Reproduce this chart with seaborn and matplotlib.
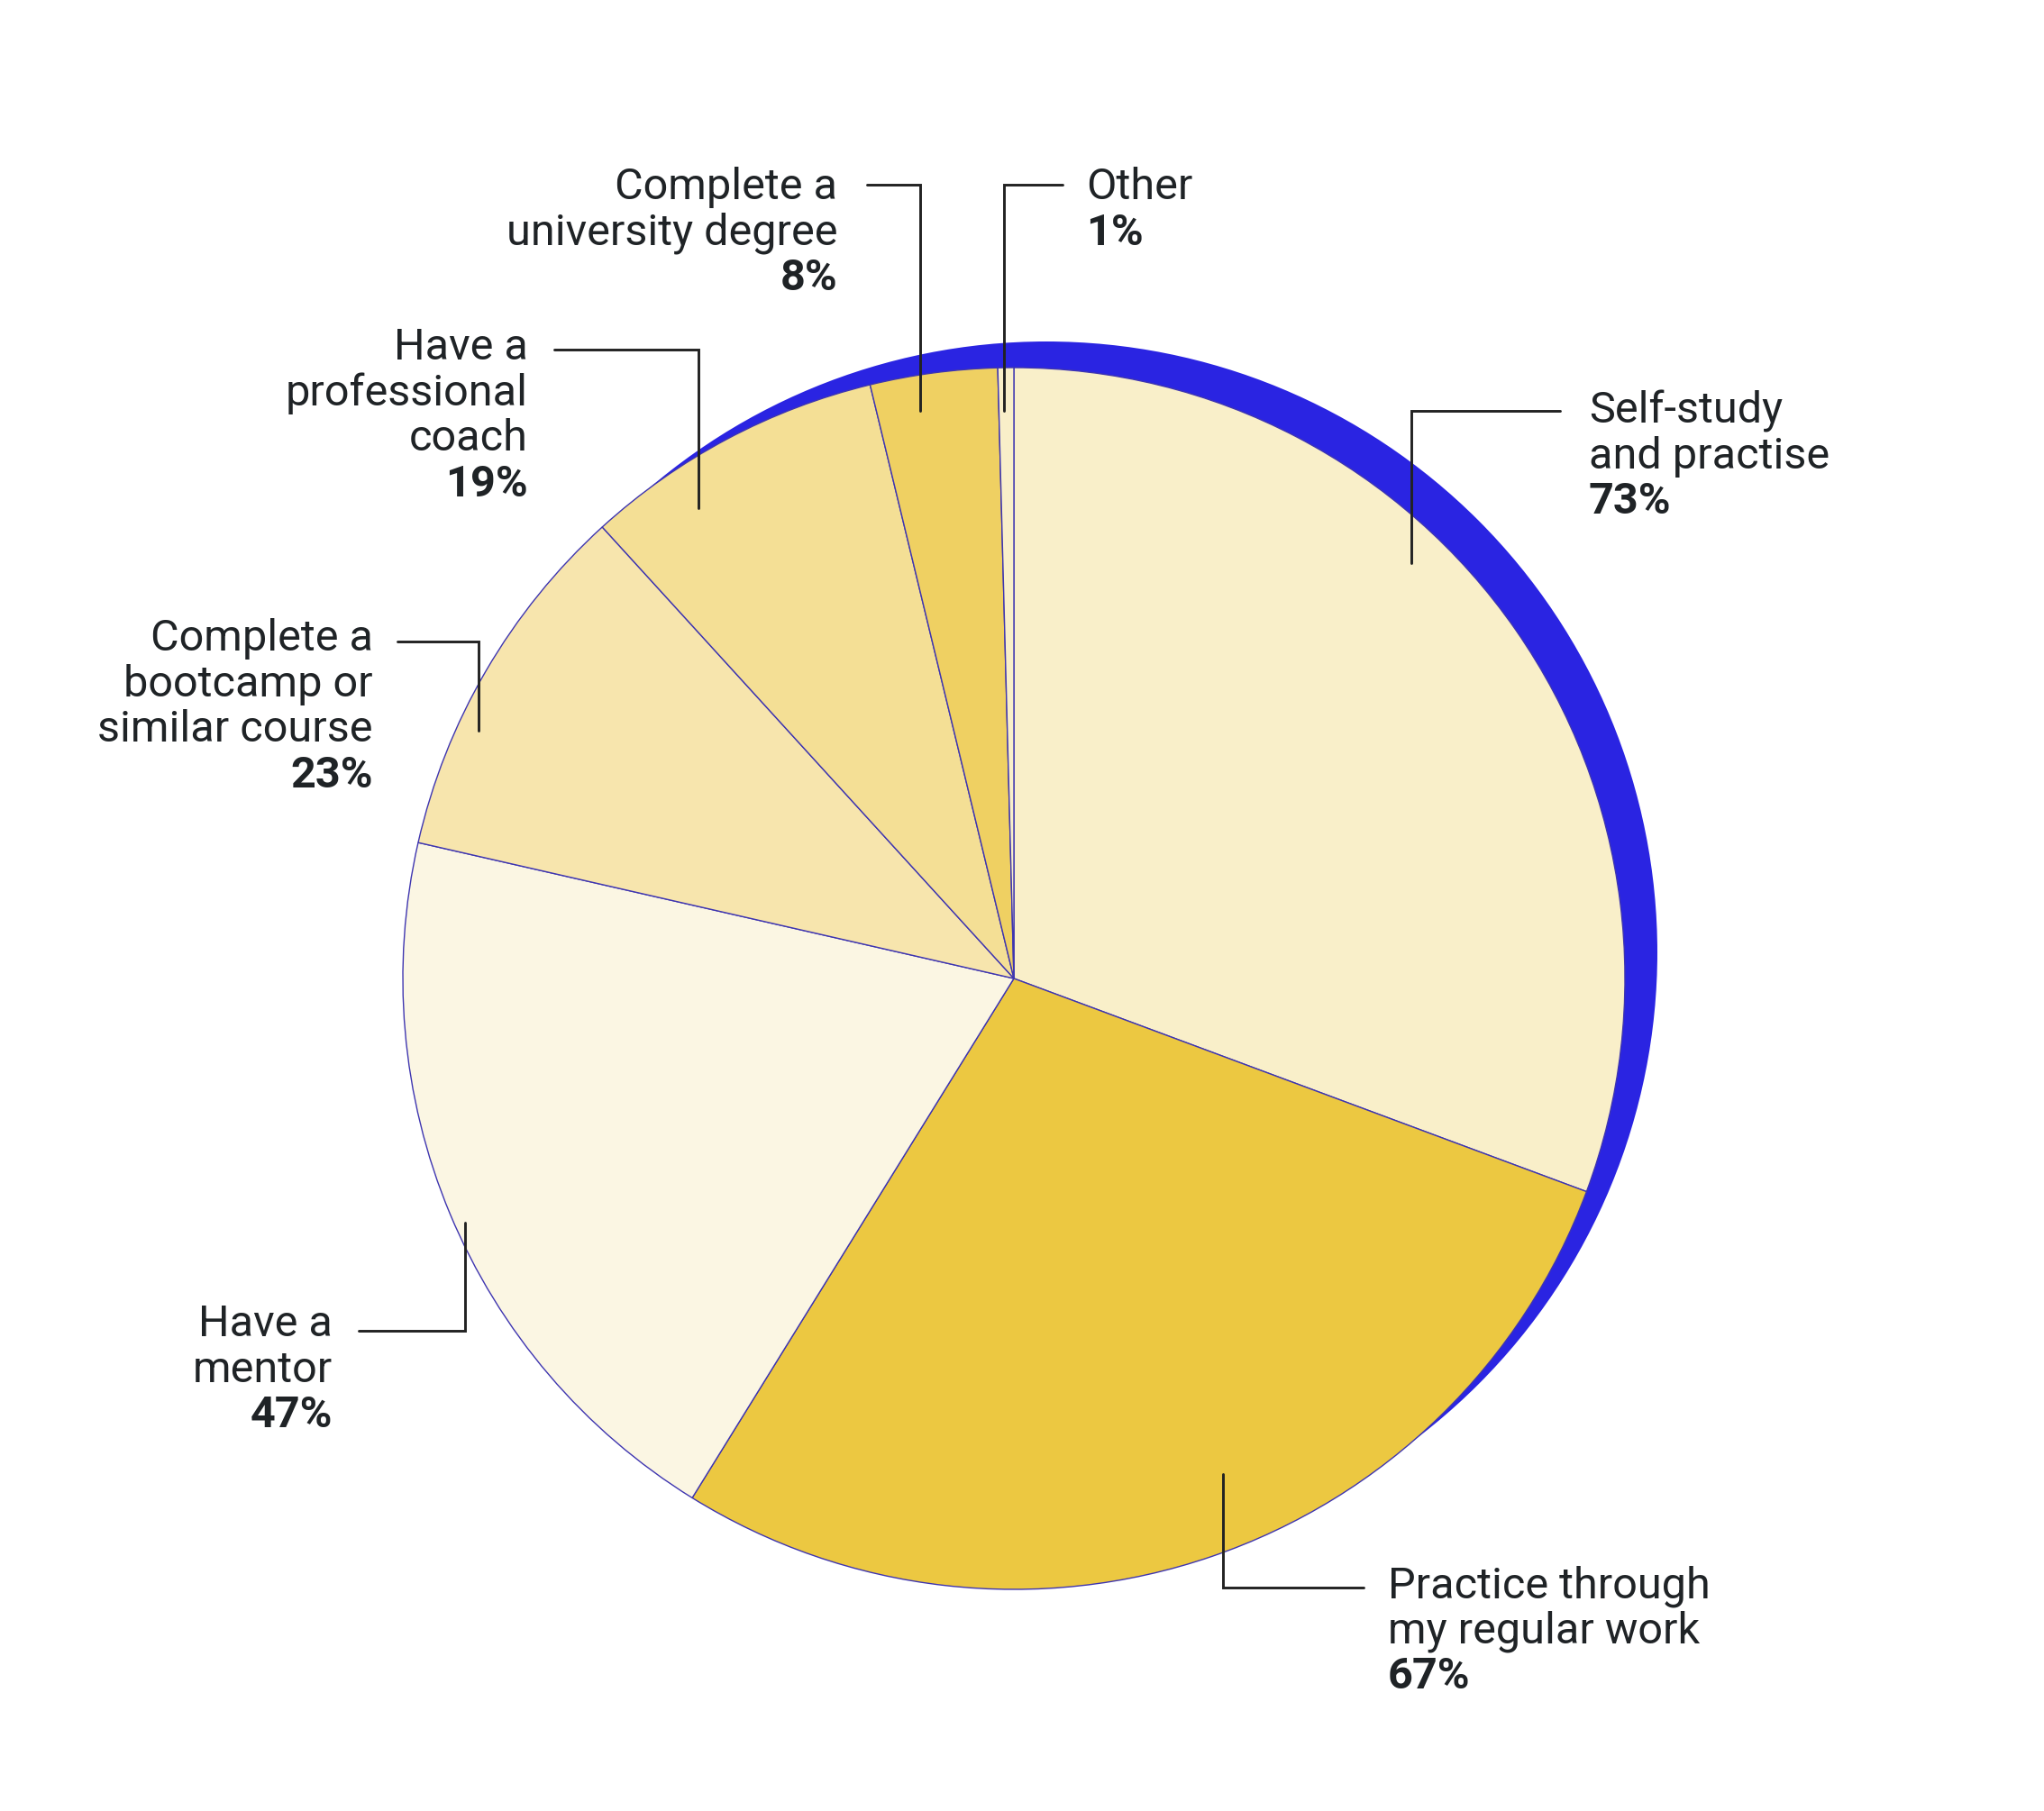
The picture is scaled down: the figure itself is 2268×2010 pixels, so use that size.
import matplotlib
matplotlib.use("Agg")
import matplotlib.pyplot as plt
import seaborn as sns
from matplotlib.patches import Circle

# ---------------- data ----------------
categories = ["Self-study and practise", "Practice through my regular work", "Have a mentor",
              "Complete a bootcamp or similar course", "Have a professional coach",
              "Complete a university degree", "Other"]
values = [73, 67, 47, 23, 19, 8, 1]
label_lines = [["Self-study", "and practise"],
               ["Practice through", "my regular work"],
               ["Have a", "mentor"],
               ["Complete a", "bootcamp or", "similar course"],
               ["Have a", "professional", "coach"],
               ["Complete a", "university degree"],
               ["Other"]]
slice_colors = ["#F9EFC9", "#ECC841", "#FBF6E3", "#F7E5AD", "#F4DF95", "#EFD062", "#F9EFC9"]

# ---------------- layout (image pixel coords) ----------------
W, H = 2268, 2010
DPI = 100
center = (1125, 1086)
radius = 678
shadow_offset = (36, -29)
label_pos = [(1763, 453, "left"), (1540, 1757, "left"), (369, 1467, "right"),
             (414, 706, "right"), (586, 383, "right"), (929, 205, "right"), (1205, 205, "left")]
connectors = [[(1731, 456), (1566, 456), (1566, 625)],
              [(1513, 1762), (1357, 1762), (1357, 1636)],
              [(398, 1477), (516, 1477), (516, 1357)],
              [(441, 712), (531, 712), (531, 811)],
              [(615, 388), (775, 388), (775, 564)],
              [(962, 205), (1021, 205), (1021, 456)],
              [(1179, 205), (1114, 205), (1114, 456)]]
pitch = 50.5

sns.set_theme(style="white")
plt.rcParams['font.family'] = ['Roboto', 'DejaVu Sans']

fig = plt.figure(figsize=(W / DPI, H / DPI), dpi=DPI, facecolor="white")
ax = fig.add_axes([0, 0, 1, 1])
ax.set_xlim(0, W)
ax.set_ylim(0, H)
ax.set_aspect("equal")
ax.axis("off")

def Y(y):
    return H - y

# blue shadow disc
ax.add_patch(Circle((center[0] + shadow_offset[0], Y(center[1]) - shadow_offset[1]), radius,
                    facecolor="#2A24E2", edgecolor="none", zorder=1))

wedges, _ = ax.pie(values, colors=slice_colors, startangle=90, counterclock=False,
                   center=(center[0], Y(center[1])), radius=radius, frame=True,
                   wedgeprops=dict(edgecolor="#3E35B0", linewidth=1.0))
for w in wedges:
    w.set_zorder(2)
ax.set_xlim(0, W)
ax.set_ylim(0, H)
ax.axis("off")

txt_color = "#1F2326"
fs = 35
for lines, val, (x, y0, ha), path in zip(label_lines, values, label_pos, connectors):
    allines = lines + [f"{val}%"]
    for i, t in enumerate(allines):
        bold = (i == len(allines) - 1)
        ax.text(x, Y(y0 + 16 + i * pitch), t, ha=ha, va="baseline", fontsize=fs,
                color=txt_color, fontweight="bold" if bold else "normal", zorder=5)
    xs = [p[0] for p in path]
    ys = [Y(p[1]) for p in path]
    ax.plot(xs, ys, color="#222222", linewidth=2.1, solid_joinstyle="miter", zorder=4)

fig.savefig("out.png", dpi=DPI, facecolor="white")
